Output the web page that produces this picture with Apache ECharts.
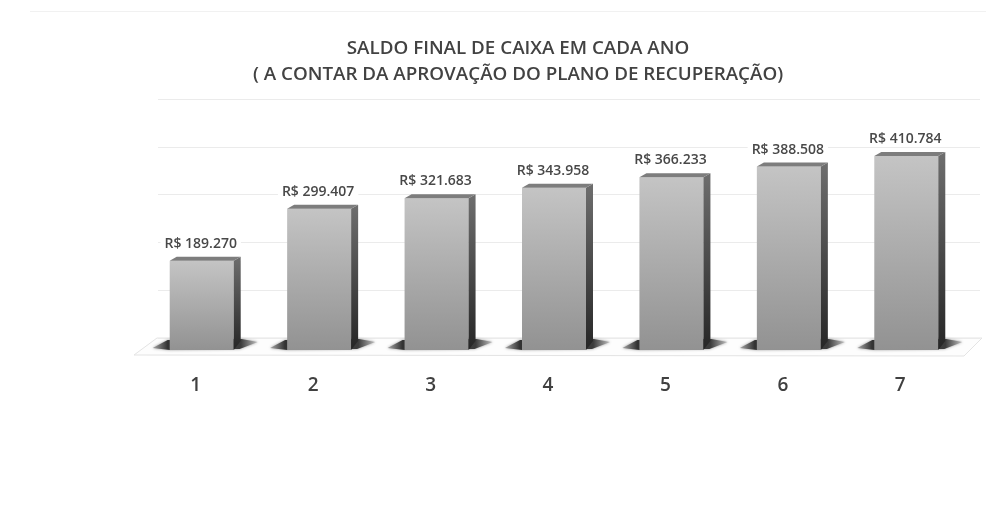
<!DOCTYPE html>
<html>
<head>
<meta charset="utf-8">
<style>
  html, body { margin: 0; padding: 0; background: #fff; }
  #chart { width: 986px; height: 506px; }
</style>
<script src="https://cdn.jsdelivr.net/npm/echarts@6/dist/echarts.min.js"></script>
</head>
<body>
<div id="chart"></div>
<script>
const anos = ['1', '2', '3', '4', '5', '6', '7']
const saldos = [189270, 299407, 321683, 343958, 366233, 388508, 410784]
const fonte = '"Open Sans", "Noto Sans", sans-serif'

const formatBRL = (v) => 'R$ ' + String(v).replace(/\B(?=(\d{3})+$)/g, '.')

const chart = echarts.init(document.getElementById('chart'))

// 3D column: shadow on the floor, front face, side, top and value label
const renderColuna = (params, api) => {
  const base = api.coord([api.value(0), 0])
  const topo = api.coord([api.value(0), api.value(1)])
  const w = api.size([1, 0])[0] * 0.545
  const x0 = base[0] - w / 2
  const x1 = base[0] + w / 2
  const dx = 7
  const dy = 4
  return {
    type: 'group',
    children: [
      {
        type: 'polygon',
        shape: {
          points: [[x0 - 17, base[1] - 2], [x0 - 2, base[1] - 10], [x1 + 8, base[1] - 11],
            [x1 + 24, base[1] - 8], [x1 + 6, base[1] - 1], [x0, base[1]]]
        },
        style: {
          fill: new echarts.graphic.LinearGradient(0, 0, 1, 0, [
            { offset: 0, color: '#a8a8a8' },
            { offset: 0.14, color: '#333' },
            { offset: 0.84, color: '#3c3c3c' },
            { offset: 1, color: '#c0c0c0' }
          ]),
          shadowBlur: 3,
          shadowColor: '#999'
        }
      },
      {
        type: 'rect',
        shape: { x: x0, y: topo[1], width: w, height: base[1] - topo[1] },
        style: {
          fill: new echarts.graphic.LinearGradient(0, 0, 0, 1, [
            { offset: 0, color: '#c4c4c4' },
            { offset: 1, color: '#929292' }
          ])
        }
      },
      {
        type: 'polygon',
        shape: { points: [[x1, topo[1]], [x1 + dx, topo[1] - dy], [x1 + dx, base[1] - 9], [x1, base[1]]] },
        style: {
          fill: new echarts.graphic.LinearGradient(0, 0, 0, 1, [
            { offset: 0, color: '#6e6e6e' },
            { offset: 1, color: '#262626' }
          ])
        }
      },
      {
        type: 'polygon',
        shape: { points: [[x0, topo[1]], [x0 + dx, topo[1] - dy], [x1 + dx, topo[1] - dy], [x1, topo[1]]] },
        style: { fill: '#7d7d7d' }
      },
      {
        type: 'text',
        style: {
          text: formatBRL(api.value(1)),
          x: base[0] - 1,
          y: topo[1] - 17,
          align: 'center',
          verticalAlign: 'middle',
          fontFamily: fonte,
          fontSize: 14,
          fontWeight: 600,
          fill: '#484848',
          backgroundColor: '#fff',
          padding: [1, 4]
        }
      }
    ]
  }
}

const option = {
  backgroundColor: '#fff',
  animation: false,
  title: {
    text: 'SALDO FINAL DE CAIXA EM CADA ANO\n( A CONTAR DA APROVAÇÃO DO PLANO DE RECUPERAÇÃO)',
    left: 513,
    top: 31,
    textAlign: 'center',
    textStyle: { fontFamily: fonte, fontSize: 18.8, fontWeight: 600, color: '#424242', lineHeight: 26 }
  },
  grid: [
    { left: 143, right: 21, top: 114, bottom: 156 },
    { left: 158, right: 6, top: 99, bottom: 168 }
  ],
  xAxis: [
    {
      type: 'category',
      gridIndex: 0,
      data: anos,
      axisLine: { show: false },
      axisTick: { show: false },
      axisLabel: { margin: 26, padding: [0, 12, 0, 0], fontFamily: fonte, fontSize: 19, fontWeight: 600, color: '#404040' }
    },
    { type: 'category', gridIndex: 1, data: anos, show: false }
  ],
  yAxis: [
    { type: 'value', gridIndex: 0, min: 0, max: 500000, interval: 100000, show: false },
    {
      type: 'value',
      gridIndex: 1,
      min: 0,
      max: 500000,
      interval: 100000,
      axisLabel: { show: false },
      axisLine: { show: false },
      axisTick: { show: false },
      splitLine: { lineStyle: { color: '#ebebeb' } }
    }
  ],
  graphic: [
    {
      type: 'polygon',
      silent: true,
      z: 0,
      shape: { points: [[134, 355], [157, 338], [982, 338], [964, 356]] },
      style: { fill: '#fdfdfd', stroke: '#e4e4e4', lineWidth: 1 }
    },
    {
      type: 'line',
      silent: true,
      z: 0,
      shape: { x1: 30, y1: 11.5, x2: 986, y2: 11.5 },
      style: { stroke: '#f1f1f1', lineWidth: 1 }
    }
  ],
  series: [
    {
      type: 'custom',
      xAxisIndex: 0,
      yAxisIndex: 0,
      z: 5,
      data: anos.map((a, i) => [i, saldos[i]]),
      renderItem: renderColuna,
      encode: { x: 0, y: 1 }
    }
  ]
}

chart.setOption(option)
window.addEventListener('resize', () => chart.resize())
</script>
</body>
</html>
